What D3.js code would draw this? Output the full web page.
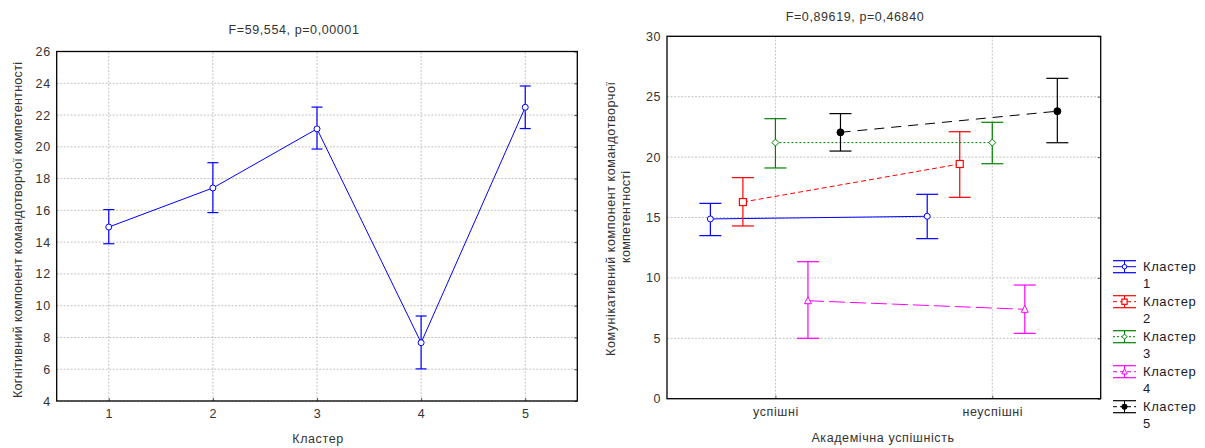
<!DOCTYPE html>
<html><head><meta charset="utf-8">
<script src="https://cdn.jsdelivr.net/npm/d3@7"></script>
<style>
body{margin:0;background:#fff;}
svg{display:block;font-family:"Liberation Sans",Arial,sans-serif;}
</style></head>
<body><svg id="c" width="1205" height="448"></svg>
<script>
// ---- Left chart data ----
const leftTitle = "F=59,554, p=0,00001";
const leftClusters = [1, 2, 3, 4, 5];
const leftMean  = [14.95, 17.41, 21.13, 7.67, 22.49];
const leftUpper = [16.05, 19.00, 22.50, 9.35, 23.83];
const leftLower = [13.90, 15.86, 19.86, 6.02, 21.15];
const leftYTicks = [4, 6, 8, 10, 12, 14, 16, 18, 20, 22, 24, 26];
const leftXLabel = "Кластер";
const leftYLabel = "Когнітивний компонент командотворчої компетентності";

// ---- Right chart data ----
const rightTitle = "F=0,89619, p=0,46840";
const groups = ["успішні", "неуспішні"];
const seriesNames = ["Кластер 1", "Кластер 2", "Кластер 3", "Кластер 4", "Кластер 5"];
const meanSuccess  = [14.88, 16.28, 21.20, 8.11, 22.05];
const upperSuccess = [16.17, 18.30, 23.18, 11.34, 23.60];
const lowerSuccess = [13.50, 14.30, 19.10, 5.00, 20.50];
const meanFail     = [15.10, 19.43, 21.20, 7.40, 23.80];
const upperFail    = [16.92, 22.10, 22.88, 9.41, 26.52];
const lowerFail    = [13.25, 16.67, 19.45, 5.41, 21.19];
const rightYTicks = [0, 5, 10, 15, 20, 25, 30];
const rightXLabel = "Академічна успішність";
const rightYLabel1 = "Комунікативний компонент командотворчої";
const rightYLabel2 = "компетентності";

// ---- styles ----
const colors = ["#0000ff", "#ff0000", "#008000", "#ff00ff", "#000000"];
const dashes = [null, "5,3", "2,2", "16,5", "10,7"];
const markerKinds = ["circle", "square", "diamond", "triangle", "dot"];
const textColor = "#333";
const gridColor = "#c4c4c4";
const FS = 12.5, LS = 0.6;

const svg = d3.select("#c");

function drawMarker(g, kind, cx, cy, color, k = 1) {
  if (kind === "circle") {
    g.append("circle").attr("cx", cx).attr("cy", cy).attr("r", 3 * k)
      .attr("fill", "#fff").attr("stroke", color).attr("stroke-width", 1);
  } else if (kind === "dot") {
    g.append("circle").attr("cx", cx).attr("cy", cy).attr("r", 3.5 * k)
      .attr("fill", color).attr("stroke", color);
  } else if (kind === "square") {
    const h = 3.5 * k;
    g.append("rect").attr("x", cx - h).attr("y", cy - h).attr("width", 2 * h).attr("height", 2 * h)
      .attr("fill", "#fff").attr("stroke", color).attr("stroke-width", 1.2);
  } else if (kind === "diamond") {
    const h = 3.5 * k;
    g.append("path").attr("d", `M${cx},${cy-h}L${cx+h},${cy}L${cx},${cy+h}L${cx-h},${cy}Z`)
      .attr("fill", "#fff").attr("stroke", color).attr("stroke-width", 1);
  } else if (kind === "triangle") {
    g.append("path").attr("d", `M${cx},${cy-4*k}L${cx+3.5*k},${cy+3*k}L${cx-3.5*k},${cy+3*k}Z`)
      .attr("fill", "#fff").attr("stroke", color).attr("stroke-width", 1);
  }
}

function styleText(sel) {
  return sel.attr("font-size", FS).attr("fill", textColor).attr("letter-spacing", LS);
}

function frameAndGrid(g, x, y, xTicks, yTicks, xFmt) {
  const [x0, x1] = x.range(), [y0, y1] = y.range();
  const gg = g.append("g");
  gg.selectAll("line.h").data(yTicks).join("line")
    .attr("x1", x0).attr("x2", x1).attr("y1", d => y(d)).attr("y2", d => y(d))
    .attr("stroke", gridColor).attr("stroke-dasharray", "2,1.5");
  gg.selectAll("line.v").data(xTicks).join("line")
    .attr("y1", y0).attr("y2", y1).attr("x1", d => x(d)).attr("x2", d => x(d))
    .attr("stroke", gridColor).attr("stroke-dasharray", "2,1.5");
  const ax = g.append("g").attr("transform", `translate(0,${y0})`)
    .call(d3.axisBottom(x).tickValues(xTicks).tickFormat(xFmt).tickSizeInner(-3).tickSizeOuter(0).tickPadding(8));
  const ay = g.append("g").attr("transform", `translate(${x0},0)`)
    .call(d3.axisLeft(y).tickValues(yTicks).tickSizeInner(0).tickSizeOuter(0).tickPadding(6));
  const ay2 = g.append("g").attr("transform", `translate(${x1},0)`)
    .call(d3.axisRight(y).tickValues(yTicks).tickSizeInner(-3).tickSizeOuter(0).tickFormat(""));
  [ax, ay, ay2].forEach(a => {
    a.select(".domain").remove();
    a.selectAll("text").attr("fill", textColor).attr("font-size", FS).attr("letter-spacing", LS)
      .attr("font-family", '"Liberation Sans",Arial,sans-serif');
    a.selectAll("line").attr("stroke", "#555");
  });
  g.append("rect").attr("x", x0).attr("y", y1).attr("width", x1 - x0).attr("height", y0 - y1)
    .attr("fill", "none").attr("stroke", "#000").attr("stroke-width", 1.3);
}

// ================= LEFT CHART =================
{
  const g = svg.append("g");
  const x = d3.scaleLinear().domain([0.5, 5.5]).range([56.7, 577.3]);
  const y = d3.scaleLinear().domain([4, 26]).range([401, 51.5]);
  frameAndGrid(g, x, y, leftClusters, leftYTicks, d => d);

  const color = colors[0];
  const line = d3.line().x((d, i) => x(leftClusters[i])).y(d => y(d));
  g.append("path").datum(leftMean).attr("d", line).attr("fill", "none")
    .attr("stroke", color).attr("stroke-width", 1);
  const cap = 5.5;
  leftClusters.forEach((c, i) => {
    const cx = x(c);
    g.append("line").attr("x1", cx).attr("x2", cx).attr("y1", y(leftUpper[i])).attr("y2", y(leftLower[i]))
      .attr("stroke", color).attr("stroke-width", 1.2);
    [leftUpper[i], leftLower[i]].forEach(v => {
      g.append("line").attr("x1", cx - cap).attr("x2", cx + cap).attr("y1", y(v)).attr("y2", y(v))
        .attr("stroke", color).attr("stroke-width", 1.2);
    });
    drawMarker(g, "circle", cx, y(leftMean[i]), color);
  });

  styleText(g.append("text").attr("x", 294).attr("y", 34).attr("text-anchor", "middle")).text(leftTitle);
  styleText(g.append("text").attr("x", 318).attr("y", 443).attr("text-anchor", "middle")).text(leftXLabel);
  g.append("text").attr("transform", "translate(22,230) rotate(-90)").attr("text-anchor", "middle")
    .attr("font-size", FS).attr("fill", textColor)
    .attr("textLength", 336).attr("lengthAdjust", "spacing").text(leftYLabel);
}

// ================= RIGHT CHART =================
{
  const g = svg.append("g");
  const x = d3.scaleLinear().domain([-0.5, 1.5]).range([667, 1100.7]);
  const y = d3.scaleLinear().domain([0, 30]).range([398.7, 36.3]);
  frameAndGrid(g, x, y, [0, 1], rightYTicks, i => groups[i]);

  const means = [meanSuccess, meanFail], uppers = [upperSuccess, upperFail], lowers = [lowerSuccess, lowerFail];
  const cap = 11;
  seriesNames.forEach((name, s) => {
    const color = colors[s];
    const pos = gi => x(gi + (s - 2) * 0.15);
    const pts = [0, 1].map(gi => [pos(gi), y(means[gi][s])]);
    const p = g.append("path").datum(pts).attr("d", d3.line()).attr("fill", "none")
      .attr("stroke", color).attr("stroke-width", 1);
    if (dashes[s]) p.attr("stroke-dasharray", dashes[s]);
    [0, 1].forEach(gi => {
      const cx = pos(gi);
      g.append("line").attr("x1", cx).attr("x2", cx).attr("y1", y(uppers[gi][s])).attr("y2", y(lowers[gi][s]))
        .attr("stroke", color).attr("stroke-width", 1.2);
      [uppers[gi][s], lowers[gi][s]].forEach(v => {
        g.append("line").attr("x1", cx - cap).attr("x2", cx + cap).attr("y1", y(v)).attr("y2", y(v))
          .attr("stroke", color).attr("stroke-width", 1.2);
      });
      drawMarker(g, markerKinds[s], cx, y(means[gi][s]), color);
    });
  });

  styleText(g.append("text").attr("x", 855).attr("y", 21).attr("text-anchor", "middle")).text(rightTitle);
  styleText(g.append("text").attr("x", 883).attr("y", 442).attr("text-anchor", "middle")).text(rightXLabel);
  g.append("text").attr("transform", "translate(615,219) rotate(-90)").attr("text-anchor", "middle")
    .attr("font-size", FS).attr("fill", textColor)
    .attr("textLength", 274).attr("lengthAdjust", "spacing").text(rightYLabel1);
  g.append("text").attr("transform", "translate(630,217) rotate(-90)").attr("text-anchor", "middle")
    .attr("font-size", FS).attr("fill", textColor)
    .attr("textLength", 92).attr("lengthAdjust", "spacing").text(rightYLabel2);

  // legend
  const lg = g.append("g");
  seriesNames.forEach((name, s) => {
    const cy = 266.7 + s * 35;
    const color = colors[s];
    const lx0 = 1113, lx1 = 1136, lcx = (lx0 + lx1) / 2;
    const l = lg.append("line").attr("x1", lx0).attr("x2", lx1).attr("y1", cy).attr("y2", cy)
      .attr("stroke", color).attr("stroke-width", 1);
    if (dashes[s]) l.attr("stroke-dasharray", s === 2 ? "2,2" : "4,3");
    [-6, 6].forEach(dy => lg.append("line").attr("x1", lx0).attr("x2", lx1)
      .attr("y1", cy + dy).attr("y2", cy + dy).attr("stroke", color).attr("stroke-width", 1.2));
    lg.append("line").attr("x1", lcx).attr("x2", lcx).attr("y1", cy - 6).attr("y2", cy + 6)
      .attr("stroke", color).attr("stroke-width", 1);
    drawMarker(lg, markerKinds[s], lcx, cy, color, 0.75);
    const parts = name.split(" ");
    const t = lg.append("text").attr("x", 1143).attr("y", cy + 4.5)
      .attr("font-size", 13).attr("letter-spacing", 0.6).attr("fill", "#1a1a2a");
    t.append("tspan").attr("x", 1143).text(parts[0]);
    t.append("tspan").attr("x", 1143).attr("dy", 17).text(parts[1]);
  });
}
</script></body></html>
